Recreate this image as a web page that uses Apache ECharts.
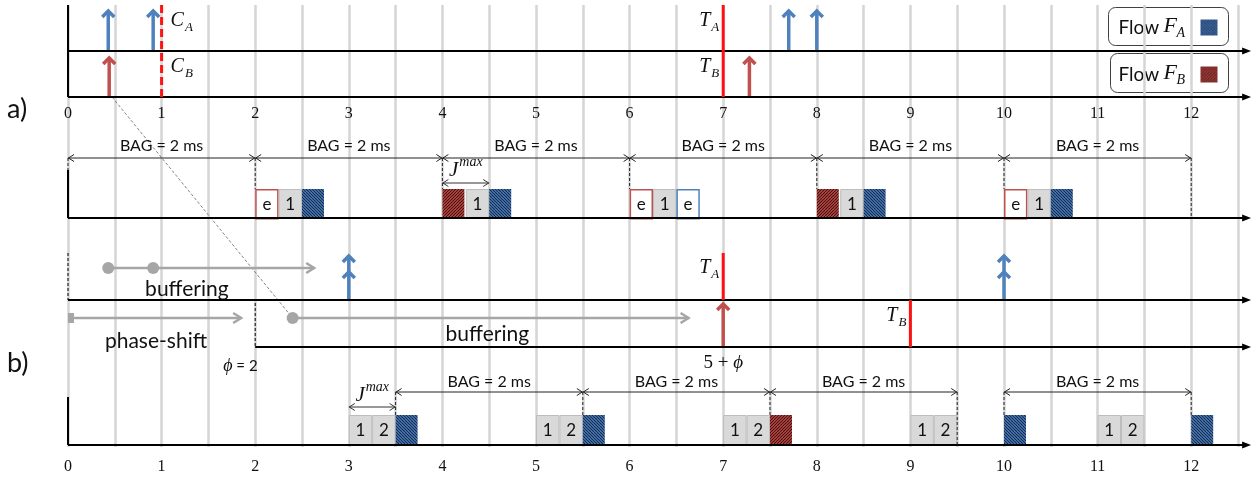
<!DOCTYPE html>
<html><head><meta charset="utf-8">
<script src="https://cdn.jsdelivr.net/npm/echarts@6/dist/echarts.min.js"></script>
<style>html,body{margin:0;padding:0;background:#fff}#c{width:1254px;height:479px}</style>
</head><body><div id="c"></div>
<script>
// ================= DATA =================
const tickLabels = ['0','1','2','3','4','5','6','7','8','9','10','11','12'];

// ---- panel a) ----
const aArrivalsA = [0.43, 0.91, 7.7, 8.0];        // flow A packet arrivals
const aArrivalsB = [0.44, 7.28];                  // flow B packet arrivals
const aCheckpoints = [1];                         // C_A / C_B (dashed)
const aTimeouts = [7];                            // T_A / T_B (solid)
const aBagWindows = [[0,2],[2,4],[4,6],[6,8],[8,10],[10,12]];
const aSlotTimes = [2, 2.25, 2.5, 4, 4.25, 4.5, 6, 6.25, 6.5, 8, 8.25, 8.5, 10, 10.25, 10.5];
const aSlotKinds = ['eB','1','A','B','1','A','eB','1','eA','B','1','A','eB','1','A'];
const aJmax = [4, 4.5];

// ---- panel b) ----
const bArrivalsA = [3, 10];                       // buffered flow A arrivals (double)
const bArrivalsB = [7];                           // buffered flow B arrival
const bTimeoutA = [7];
const bTimeoutB = [9];
const bBagWindows = [[3.5,5.5],[5.5,7.5],[7.5,9.5],[10,12]];
const bSlotTimes = [3, 3.25, 3.5, 5, 5.25, 5.5, 7, 7.25, 7.5, 9, 9.25, 10, 11, 11.25, 12];
const bSlotKinds = ['1','2','A','1','2','A','1','2','B','1','2','A','1','2','A'];
const bJmax = [3, 3.5];
const bufferStartA = [0.43, 0.91];  const bufferEndA = 2.63;
const phaseShift = [0, 1.85];
const bufferB = [2.4, 6.63];
const phi = 2;

// ================= LAYOUT (rows on the inverted y axis, pixel-like units) =================
const L = {
  aTop: 5, aMid: 51, aBase: 97, aTopA: 10, aTopB: 57, aLblA: 21, aLblB: 67,
  aBagY: 158, aBagText: 146, aTimeTop: 170, aBoxTop: 189, aAxis: 218, aJY: 183, aJText: 170,
  bTop: 253, bLine1: 300, bLine2: 347, bTopA: 255, bTopB: 303, bBuf1: 268, bBuf2: 318,
  bLblA: 268, bLblB: 316, bBufText1: 289, bBufText2: 334, bPhaseText: 341, bPhiText: 366,
  bBagY: 392, bBagText: 382, bTimeTop: 397, bBoxTop: 415, bAxis: 445, bJY: 407, bJText: 395
};
const X_END = 12.64, SLOT_W = 0.25, HATCH_W = 0.235;
const BLUE = '#4f81bd', RED = '#c0504d', LRED = '#ff1111', GRAY = '#a6a6a6', INK = '#111';
const SANS = 'Lato', SERIF = '"Liberation Serif"';

// ================= HELPERS =================
const mctx = document.createElement('canvas').getContext('2d');
function tw(s, font) { mctx.font = font; return mctx.measureText(s).width; }
function ln(p, q, st) { return {type:'line', shape:{x1:p[0], y1:p[1], x2:q[0], y2:q[1]}, style:st}; }
function pl(pts, st) { return {type:'polyline', shape:{points:pts}, style:st}; }
function tx(x, y, s, font, fill, align, va) {
  return {type:'text', x:x, y:y, style:{text:s, font:font, fill:fill || INK, align:align || 'center', verticalAlign:va || 'middle'}};
}
function mathLabel(x, y, main, script, sup, size, align) {
  const mf = 'italic ' + size + 'px ' + SERIF, sf = 'italic ' + Math.round(size * 0.66) + 'px ' + SERIF;
  const wm = tw(main, mf), ws = tw(script, sf), tot = wm + ws + 1;
  const x0 = align === 'left' ? x : align === 'right' ? x - tot : x - tot / 2;
  return [tx(x0, y, main, mf, INK, 'left'),
          tx(x0 + wm + 1, sup ? y - size * 0.36 : y + size * 0.32, script, sf, INK, 'left')];
}
function hatch(bg, fg, dir) {
  const c = document.createElement('canvas'); c.width = c.height = 6;
  const g = c.getContext('2d'); g.fillStyle = bg; g.fillRect(0, 0, 6, 6);
  g.strokeStyle = fg; g.lineWidth = 1.1;
  for (let k = -3; k <= 3; k++) {
    const o = k * 3; g.beginPath();
    if (dir > 0) { g.moveTo(o, 6); g.lineTo(o + 6, 0); } else { g.moveTo(o, 0); g.lineTo(o + 6, 6); }
    g.stroke();
  }
  return c;
}
const hatchA = hatch('#5285c5', '#14294a', -1);
const hatchB = hatch('#c8524e', '#400f0e', 1);

function cs(name, data, render, z) {
  return {type:'custom', name:name, clip:false, silent:true, animation:false, z:z || 3,
    data:data, renderItem:function (params, api) { return {type:'group', children:render(params.dataIndex, api)}; }};
}
function eventArrow(api, t, base, top, color, dbl) {
  const b = api.coord([t, base]), p = api.coord([t, top]); const x = b[0], y = p[1];
  const st = {stroke:color, lineWidth:3.5, lineJoin:'miter', fill:null};
  const els = [ln([x, b[1]], [x, y + 2], st), pl([[x - 6, y + 7], [x, y + 1], [x + 6, y + 7]], st)];
  if (dbl) els.push(pl([[x - 6, y + 23], [x, y + 17], [x + 6, y + 23]], st));
  return els;
}
function dimArrow(api, t0, t1, y, stroke) {
  const a = api.coord([t0, y]), b = api.coord([t1, y]);
  const st = {stroke:stroke || '#222', lineWidth:1, fill:null};
  return [ln(a, b, st), pl([[a[0] + 6, a[1] - 3.5], [a[0] + 0.5, a[1]], [a[0] + 6, a[1] + 3.5]], st),
          pl([[b[0] - 6, b[1] - 3.5], [b[0] - 0.5, b[1]], [b[0] - 6, b[1] + 3.5]], st)];
}
function slot(api, t, kind, top, base) {
  const hatched = kind === 'A' || kind === 'B';
  const p0 = api.coord([t, top]), p1 = api.coord([t + (hatched ? HATCH_W : SLOT_W), base]);
  const x = p0[0], y = p0[1], W = p1[0] - p0[0], H = p1[1] - p0[1];
  if (hatched) return [{type:'rect', shape:{x:x, y:y, width:W, height:H}, style:{fill:{image:kind === 'A' ? hatchA : hatchB, repeat:'repeat'}}}];
  if (kind[0] === 'e') return [
    {type:'rect', shape:{x:x + 0.75, y:y + 0.75, width:W - 1.5, height:H}, style:{fill:'#fff', stroke:kind === 'eA' ? BLUE : RED, lineWidth:1.5}},
    tx(x + W / 2, y + H / 2 + 1, 'e', '17px ' + SANS)];
  return [{type:'rect', shape:{x:x + 0.5, y:y + 0.5, width:W - 1, height:H}, style:{fill:'#d9d9d9', stroke:'#bdbdbd', lineWidth:1}},
          tx(x + W / 2, y + H / 2 + 1, kind, '17px ' + SANS)];
}
function bagMarks(windows, slotTimes, bagY, boxTop, axisY, timeTop) {
  const set = []; windows.forEach(w => w.forEach(t => { if (set.indexOf(t) < 0) set.push(t); }));
  return set.map(t => [t, bagY, t === 0 ? timeTop : (slotTimes.indexOf(t) >= 0 ? boxTop : axisY)]);
}

// ================= SERIES =================
const timelineRows = [[0, L.aMid], [0, L.aBase], [0, L.aAxis], [0, L.bLine1], [2, L.bLine2], [0, L.bAxis]];
const leftEdges = [[0, L.aTop, L.aBase, 0], [0, L.aTimeTop, L.aAxis, 0], [0, L.bTimeTop, L.bAxis, 0],
                   [0, L.bTop, L.bLine1, 1], [phi, L.bLine1 + 3, L.bLine2, 1]];

const series = [];
series.push(cs('timelines', timelineRows, (i, api) => {
  const r = timelineRows[i]; const a = api.coord([r[0], r[1]]), b = api.coord([X_END, r[1]]);
  return [ln(a, [b[0] - 6, b[1]], {stroke:'#000', lineWidth:2}),
          {type:'polygon', shape:{points:[[b[0], b[1]], [b[0] - 9, b[1] - 3.5], [b[0] - 9, b[1] + 3.5]]}, style:{fill:'#000'}}];
}, 4));
series.push(cs('edges', leftEdges, (i, api) => {
  const r = leftEdges[i]; const a = api.coord([r[0], r[1]]), b = api.coord([r[0], r[2]]);
  return [ln(a, b, r[3] ? {stroke:'#000', lineWidth:1, lineDash:[3, 2]} : {stroke:'#000', lineWidth:2})];
}, 4));
const diag = [[aArrivalsB[0] + 0.03, L.aBase, bufferB[0], L.bBuf2]];
series.push(cs('diag', diag, (i, api) => {
  const d = diag[i]; return [ln(api.coord([d[0], d[1]]), api.coord([d[2], d[3]]), {stroke:'#666', lineWidth:0.8, lineDash:[3, 2]})];
}, 2));
series.push(cs('aA', aArrivalsA.map(t => [t, L.aMid]), (i, api) => eventArrow(api, aArrivalsA[i], L.aMid, L.aTopA, BLUE, false)));
series.push(cs('aB', aArrivalsB.map(t => [t, L.aBase]), (i, api) => eventArrow(api, aArrivalsB[i], L.aBase, L.aTopB, RED, false)));
series.push(cs('bA', bArrivalsA.map(t => [t, L.bLine1]), (i, api) => eventArrow(api, bArrivalsA[i], L.bLine1, L.bTopA, BLUE, true)));
series.push(cs('bB', bArrivalsB.map(t => [t, L.bLine2]), (i, api) => eventArrow(api, bArrivalsB[i], L.bLine2, L.bTopB, RED, false)));
series.push(cs('C', aCheckpoints.map(t => [t, L.aTop]), (i, api) => {
  const t = aCheckpoints[i]; const a = api.coord([t, L.aTop]), b = api.coord([t, L.aBase]);
  return [ln(a, b, {stroke:LRED, lineWidth:3, lineDash:[8, 4]})]
    .concat(mathLabel(a[0] + 9, api.coord([t, L.aLblA])[1], 'C', 'A', false, 20, 'left'))
    .concat(mathLabel(a[0] + 9, api.coord([t, L.aLblB])[1], 'C', 'B', false, 20, 'left'));
}, 5));
series.push(cs('T', aTimeouts.map(t => [t, L.aTop]), (i, api) => {
  const t = aTimeouts[i]; const a = api.coord([t, L.aTop]), b = api.coord([t, L.aBase]);
  return [ln(a, b, {stroke:LRED, lineWidth:3})]
    .concat(mathLabel(a[0] - 4, api.coord([t, L.aLblA])[1], 'T', 'A', false, 20, 'right'))
    .concat(mathLabel(a[0] - 4, api.coord([t, L.aLblB])[1], 'T', 'B', false, 20, 'right'));
}, 5));
series.push(cs('bTA', bTimeoutA.map(t => [t, L.bTop]), (i, api) => {
  const t = bTimeoutA[i]; const a = api.coord([t, L.bTop]), b = api.coord([t, L.bLine1]);
  return [ln(a, b, {stroke:LRED, lineWidth:3})].concat(mathLabel(a[0] - 4, api.coord([t, L.bLblA])[1], 'T', 'A', false, 20, 'right'));
}, 5));
series.push(cs('bTB', bTimeoutB.map(t => [t, L.bLine1]), (i, api) => {
  const t = bTimeoutB[i]; const a = api.coord([t, L.bLine1]), b = api.coord([t, L.bLine2]);
  return [ln(a, b, {stroke:LRED, lineWidth:3})].concat(mathLabel(a[0] - 4, api.coord([t, L.bLblB])[1], 'T', 'B', false, 20, 'right'));
}, 5));
function bagSeries(name, wins, yLine, yText) {
  return cs(name, wins.map(w => [w[0], yLine]), (i, api) => {
    const w = wins[i]; const a = api.coord([(w[0] + w[1]) / 2, yText]);
    return dimArrow(api, w[0], w[1], yLine).concat([tx(a[0], a[1], 'BAG = 2 ms', '16px ' + SANS, '#111')]);
  });
}
series.push(bagSeries('aBag', aBagWindows, L.aBagY, L.aBagText));
series.push(bagSeries('bBag', bBagWindows, L.bBagY, L.bBagText));
const aMarks = bagMarks(aBagWindows, aSlotTimes, L.aBagY, L.aBoxTop, L.aAxis, L.aTimeTop);
const bMarks = bagMarks(bBagWindows, bSlotTimes, L.bBagY, L.bBoxTop, L.bAxis, L.bTimeTop);
[aMarks, bMarks].forEach((m, k) => series.push(cs('marks' + k, m, (i, api) =>
  [ln(api.coord([m[i][0], m[i][1]]), api.coord([m[i][0], m[i][2]]), {stroke:'#222', lineWidth:1, lineDash:[3, 2]})], 6)));
series.push(cs('aSlots', aSlotTimes.map(t => [t, L.aBoxTop]), (i, api) => slot(api, aSlotTimes[i], aSlotKinds[i], L.aBoxTop, L.aAxis)));
series.push(cs('bSlots', bSlotTimes.map(t => [t, L.bBoxTop]), (i, api) => slot(api, bSlotTimes[i], bSlotKinds[i], L.bBoxTop, L.bAxis)));
function jSeries(name, j, yLine, yText) {
  return cs(name, [[j[0], yLine]], (i, api) => {
    const c = api.coord([(j[0] + j[1]) / 2, yText]);
    return dimArrow(api, j[0], j[1], yLine, '#333').concat(mathLabel(c[0], c[1], 'J', 'max', true, 21, 'center'));
  });
}
series.push(jSeries('aJ', aJmax, L.aJY, L.aJText));
series.push(jSeries('bJ', bJmax, L.bJY, L.bJText));
const grayArrows = [[bufferStartA[0], bufferEndA, L.bBuf1, 'dot'], [phaseShift[0], phaseShift[1], L.bBuf2, 'sq'], [bufferB[0], bufferB[1], L.bBuf2, 'dot']];
series.push(cs('buffer', grayArrows.map(g => [g[0], g[2]]), (i, api) => {
  const g = grayArrows[i]; const a = api.coord([g[0], g[2]]), b = api.coord([g[1], g[2]]);
  const st = {stroke:GRAY, lineWidth:2.5, fill:null};
  const els = [ln(a, b, st), pl([[b[0] - 8, b[1] - 5], [b[0], b[1]], [b[0] - 8, b[1] + 5]], st)];
  if (g[3] === 'dot') els.push({type:'circle', shape:{cx:a[0], cy:a[1], r:6}, style:{fill:GRAY}});
  else els.push({type:'rect', shape:{x:a[0], y:a[1] - 5, width:6, height:10}, style:{fill:GRAY}});
  return els;
}));
series.push(cs('bufDots', bufferStartA.slice(1).map(t => [t, L.bBuf1]), (i, api) => {
  const p = api.coord([bufferStartA[i + 1], L.bBuf1]);
  return [{type:'circle', shape:{cx:p[0], cy:p[1], r:6}, style:{fill:GRAY}}];
}));
const bTexts = [[1.27, L.bBufText1, 'buffering'], [4.48, L.bBufText2, 'buffering'], [0.94, L.bPhaseText, 'phase-shift']];
series.push(cs('bTexts', bTexts.map(t => [t[0], t[1]]), (i, api) => {
  const p = api.coord([bTexts[i][0], bTexts[i][1]]); return [tx(p[0], p[1], bTexts[i][2], '21px ' + SANS, '#111')];
}));
series.push(cs('phi', [[phi, L.bPhiText]], (i, api) => {
  const p = api.coord([phi, L.bPhiText]);
  const f1 = 'italic 18px ' + SERIF, f2 = '15px ' + SANS;
  const w1 = tw('ϕ', f1), x0 = p[0] - 32;
  const q = api.coord([bTimeoutA[0], L.bPhiText - 3]);
  const g1 = '19px ' + SERIF, g2 = 'italic 19px ' + SERIF, v1 = tw('5 + ', g1), v2 = tw('ϕ', g2), y0 = q[0] - (v1 + v2) / 2;
  return [tx(x0, p[1], 'ϕ', f1, INK, 'left'), tx(x0 + w1, p[1], ' = ' + phi, f2, INK, 'left'),
          tx(y0, q[1], '5 + ', g1, INK, 'left'), tx(y0 + v1, q[1], 'ϕ', g2, INK, 'left')];
}));

// ================= CHART =================
const chart = echarts.init(document.getElementById('c'), null, {renderer:'canvas', width:1254, height:479});
const lbl = v => (Math.abs(v - Math.round(v)) < 1e-6 && tickLabels[Math.round(v)] !== undefined) ? tickLabels[Math.round(v)] : '';
chart.setOption({
  animation:false,
  backgroundColor:'#fff',
  grid:{left:68, right:16, top:5, bottom:32, containLabel:false},
  xAxis:[
    {type:'value', min:0, max:12.5, interval:0.5, position:'bottom',
     axisLine:{show:false}, axisTick:{show:false},
     splitLine:{show:true, lineStyle:{color:'#d5d5d5', width:2.5}},
     axisLabel:{formatter:lbl, margin:12, fontFamily:'Liberation Serif', fontSize:16, color:'#111', showMaxLabel:true, showMinLabel:true}},
    {type:'value', min:0, max:12.5, interval:0.5, position:'top', offset:-92,
     axisLine:{show:false}, axisTick:{show:false}, splitLine:{show:false},
     axisLabel:{inside:true, formatter:lbl, margin:9, fontFamily:'Liberation Serif', fontSize:16, color:'#111', showMaxLabel:true, showMinLabel:true}}
  ],
  yAxis:{type:'value', min:5, max:447, inverse:true, show:false},
  series:series,
  graphic:[
    {type:'text', left:7, top:96, style:{text:'a)', font:'27px ' + SANS, fill:'#111'}},
    {type:'text', left:7, top:350, style:{text:'b)', font:'27px ' + SANS, fill:'#111'}},
    {type:'group', left:1108, top:7, children:[
      {type:'rect', shape:{x:0, y:0, width:120, height:38, r:7}, style:{fill:'#fff', stroke:'#404040', lineWidth:1}},
      {type:'text', x:10, y:20, style:{text:'Flow', font:'19px ' + SANS, fill:'#111', verticalAlign:'middle'}},
      {type:'text', x:55, y:19, style:{text:'F', font:'italic 22px ' + SERIF, fill:'#111', verticalAlign:'middle'}},
      {type:'text', x:68, y:26, style:{text:'A', font:'italic 14px ' + SERIF, fill:'#111', verticalAlign:'middle'}},
      {type:'rect', shape:{x:92, y:12, width:17, height:16}, style:{fill:{image:hatchA, repeat:'repeat'}}}
    ]},
    {type:'group', left:1110, top:53, children:[
      {type:'rect', shape:{x:0, y:0, width:118, height:39, r:7}, style:{fill:'#fff', stroke:'#404040', lineWidth:1}},
      {type:'text', x:8, y:21, style:{text:'Flow', font:'19px ' + SANS, fill:'#111', verticalAlign:'middle'}},
      {type:'text', x:53, y:20, style:{text:'F', font:'italic 22px ' + SERIF, fill:'#111', verticalAlign:'middle'}},
      {type:'text', x:66, y:27, style:{text:'B', font:'italic 14px ' + SERIF, fill:'#111', verticalAlign:'middle'}},
      {type:'rect', shape:{x:90, y:13, width:17, height:16}, style:{fill:{image:hatchB, repeat:'repeat'}}}
    ]}
  ]
});
</script></body></html>
